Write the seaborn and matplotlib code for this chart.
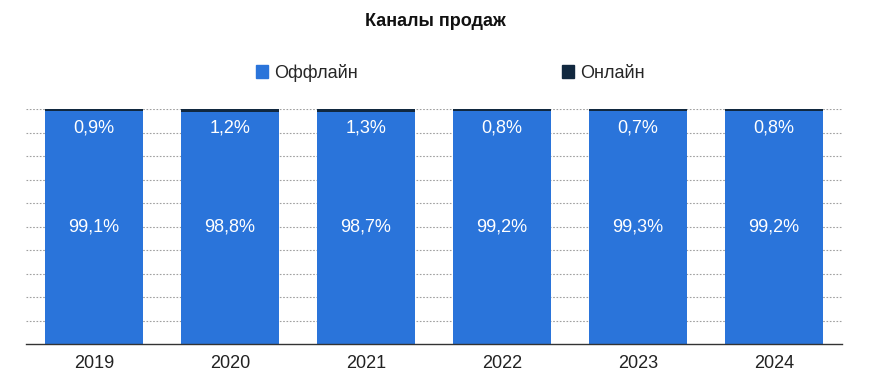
import matplotlib
matplotlib.use("Agg")
import matplotlib.pyplot as plt
import seaborn as sns
import pandas as pd
from matplotlib.patches import Patch

# --- Dados ---
years = ["2019", "2020", "2021", "2022", "2023", "2024"]
offline = [99.1, 98.8, 98.7, 99.2, 99.3, 99.2]
online = [0.9, 1.2, 1.3, 0.8, 0.7, 0.8]

BLUE = "#2A74DA"
NAVY = "#11283F"

df = pd.DataFrame({"year": years, "offline": offline, "online": online})
df["total"] = df["offline"] + df["online"]

sns.set_theme(style="white")
plt.rcParams["font.family"] = ["Liberation Sans Narrow", "Liberation Sans", "DejaVu Sans"]

fig = plt.figure(figsize=(8.71, 3.88), dpi=100)
ax = fig.add_axes([26 / 871, 1 - 344 / 388, (842 - 26) / 871, (344 - 109) / 388])

# empilhado: total (online) atrás, offline na frente
sns.barplot(data=df, x="year", y="total", color=NAVY, width=0.72,
            saturation=1, linewidth=0, ax=ax, zorder=3)
sns.barplot(data=df, x="year", y="offline", color=BLUE, width=0.72,
            saturation=1, linewidth=0, ax=ax, zorder=4)

ax.set_ylim(0, 100)
ax.set_xlim(-0.5, len(years) - 0.5)
for yv in range(10, 101, 10):
    ax.axhline(yv, color="#a0a0a0", lw=0.8, ls=(0, (1.5, 1.5)), zorder=1)

for i, (off, on) in enumerate(zip(offline, online)):
    ax.text(i, 50, f"{off:.1f}%".replace(".", ","), ha="center", va="center",
            color="white", fontsize=13, zorder=5)
    ax.text(i, 92, f"{on:.1f}%".replace(".", ","), ha="center", va="center",
            color="white", fontsize=13, zorder=5)

ax.set_xlabel("")
ax.set_ylabel("")
ax.set_yticks([])
ax.tick_params(axis="x", length=0, labelsize=13, pad=8, colors="#222222")
for s in ["top", "right", "left"]:
    ax.spines[s].set_visible(False)
ax.spines["bottom"].set_color("#333333")
ax.spines["bottom"].set_linewidth(1)
ax.spines["bottom"].set_zorder(6)

fig.text(0.5, 1 - 22 / 388, "Каналы продаж", ha="center", va="center",
         fontsize=13, fontweight="bold", color="#111111")

handles = [Patch(color=BLUE, label="Оффлайн"), Patch(color=NAVY, label="Онлайн")]
fig.legend(handles=handles, loc="center", ncol=2, frameon=False,
           bbox_to_anchor=(450 / 871, 1 - 73 / 388), fontsize=13,
           handlelength=0.7, handleheight=0.7, handletextpad=0.3,
           columnspacing=11.3)

plt.savefig("out.png", dpi=100)
